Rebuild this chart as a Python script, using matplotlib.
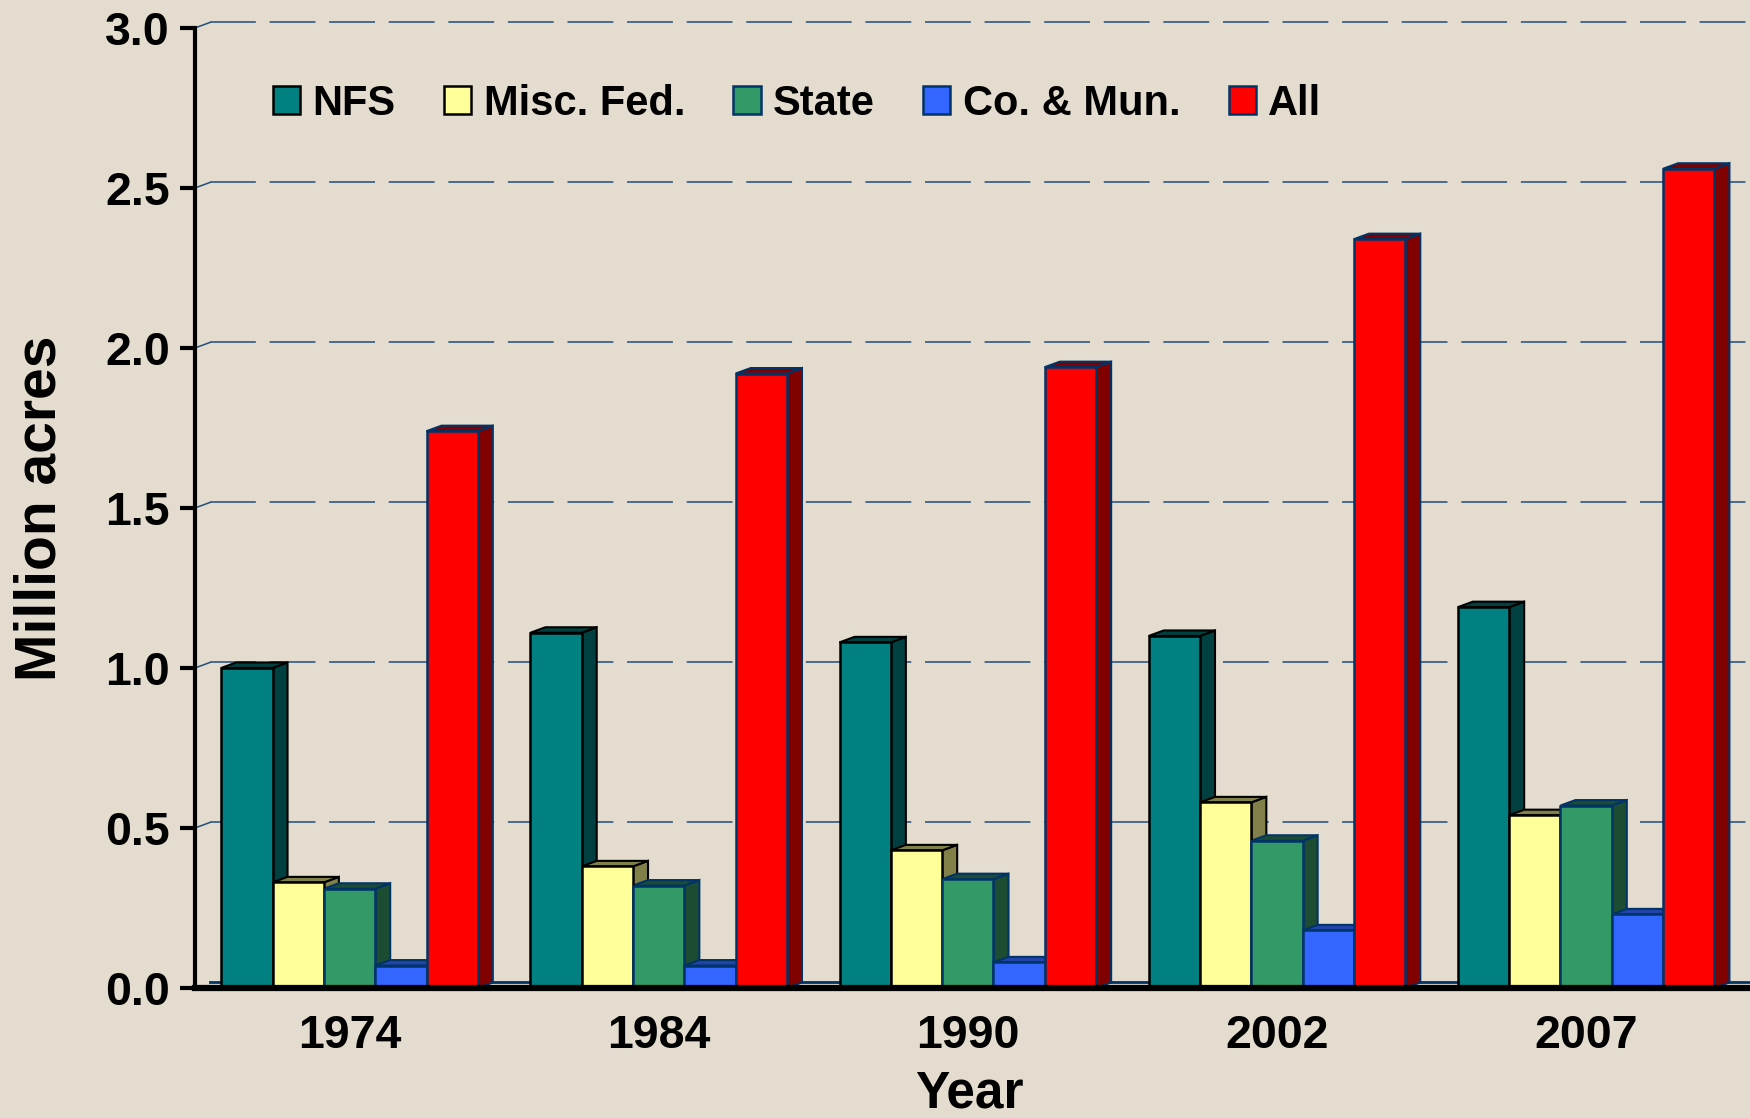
import matplotlib
matplotlib.use("Agg")
import matplotlib.pyplot as plt
import matplotlib.patches as patches
import numpy as np

plt.rcParams['font.family'] = ['Liberation Sans', 'DejaVu Sans']
plt.rcParams['font.weight'] = 'bold'

# data (million acres)
years = ['1974', '1984', '1990', '2002', '2007']
series = ['NFS', 'Misc. Fed.', 'State', 'Co. & Mun.', 'All']
nfs = [1.00, 1.11, 1.08, 1.10, 1.19]
misc_fed = [0.33, 0.38, 0.43, 0.58, 0.54]
state = [0.31, 0.32, 0.34, 0.46, 0.57]
co_mun = [0.07, 0.07, 0.08, 0.18, 0.23]
all_owners = [1.74, 1.92, 1.94, 2.34, 2.56]
yticks = [0.0, 0.5, 1.0, 1.5, 2.0, 2.5, 3.0]

values = [nfs, misc_fed, state, co_mun, all_owners]
front = ['#008080', '#FFFF99', '#339966', '#3366FF', '#FF0000']
side = ['#004040', '#808048', '#1C4D33', '#2244AA', '#800000']
edges = ['#000000', '#000000', '#003366', '#003366', '#003366']

bg = '#E4DCCF'
grid_c = '#1F4E79'

fig = plt.figure(figsize=(17.5, 11.18), dpi=100, facecolor=bg)
ax = fig.add_axes([0.1114, 0.1163, 0.8886, 0.8587], facecolor=bg)
ax.set_xlim(-0.5, 4.53)
ax.set_ylim(0, 3.0)

# depth of the fake 3d effect, in pixels -> data units
dpx, dpy = 15.0, 5.5
inv = ax.transData.inverted()
o = inv.transform((0, 0))
d = inv.transform((dpx, dpy)) - o
ddx, ddy = d[0], d[1]

# back wall gridlines
for yv in yticks[1:]:
    ax.plot([-0.5 + ddx, 4.53], [yv + ddy, yv + ddy], color=grid_c, lw=1.1,
            linestyle=(0, (30, 9)), zorder=0.5, clip_on=False)
    ax.plot([-0.5, -0.5 + ddx], [yv, yv + ddy], color=grid_c, lw=1.1, zorder=0.5, clip_on=False)
# floor back edge
ax.plot([-0.5 + ddx, 4.53], [ddy, ddy], color='#003366', lw=2, zorder=0.6, clip_on=False)

x = np.arange(len(years))
w = 0.166
for i, vals in enumerate(values):
    xs = x + (i - 2) * w
    ax.bar(xs, vals, width=w, color=front[i], edgecolor=edges[i], linewidth=1.8,
           zorder=3, label=series[i])
    for xc, h in zip(xs, vals):
        xl, xr = xc - w / 2, xc + w / 2
        sidef = patches.Polygon([(xr, 0), (xr, h), (xr + ddx, h + ddy), (xr + ddx, ddy)],
                                closed=True, facecolor=side[i], edgecolor=edges[i],
                                linewidth=1.5, zorder=2)
        topf = patches.Polygon([(xl, h), (xr, h), (xr + ddx, h + ddy), (xl + ddx, h + ddy)],
                               closed=True, facecolor=side[i], edgecolor=edges[i],
                               linewidth=1.5, zorder=2)
        ax.add_patch(sidef)
        ax.add_patch(topf)

for s in ['top', 'right']:
    ax.spines[s].set_visible(False)
ax.spines['left'].set_linewidth(3)
ax.spines['bottom'].set_linewidth(4.5)
ax.spines['bottom'].set_zorder(4)

ax.set_yticks(yticks)
ax.set_yticklabels([f'{v:.1f}' for v in yticks])
ax.set_xticks(x)
ax.set_xticklabels(years)
ax.tick_params(axis='y', length=11, width=3, pad=7, labelsize=33.5)
ax.tick_params(axis='x', length=0, pad=19, labelsize=33.5)

ax.set_ylabel('Million acres', fontsize=41, fontweight='bold', labelpad=27)
fig.text(969 / 1750, 0.0, 'Year', fontsize=37, fontweight='bold', ha='center', va='bottom')

leg = fig.legend(loc='center left', bbox_to_anchor=(273 / 1750, 1 - 104 / 1118), ncol=5,
                 frameon=False, fontsize=30, handlelength=0.65, handleheight=0.65,
                 handletextpad=0.3, columnspacing=1.16, borderpad=0, borderaxespad=0)
for t in leg.get_texts():
    t.set_fontweight('bold')

fig.savefig('out.png', dpi=100, facecolor=bg)
